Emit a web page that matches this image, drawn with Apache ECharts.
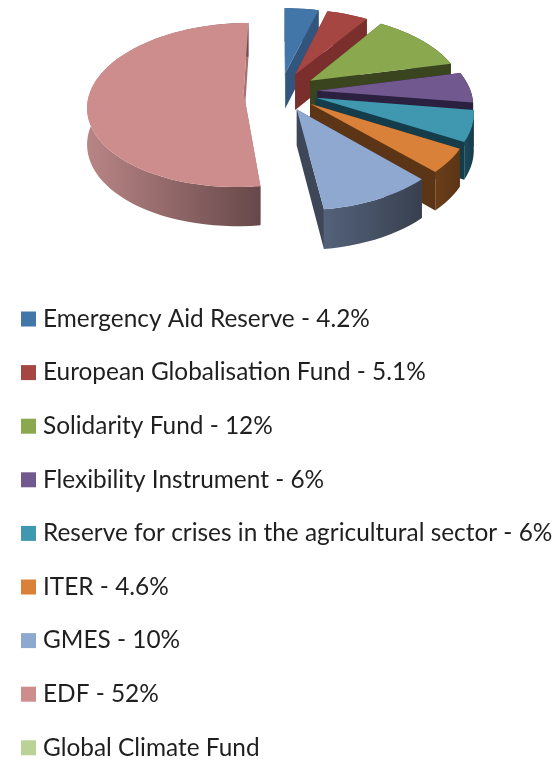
<!DOCTYPE html>
<html>
<head>
<meta charset="utf-8">
<style>html,body{margin:0;padding:0;background:#fff}#c{width:558px;height:760px}</style>
<script src="https://cdn.jsdelivr.net/npm/echarts@6/dist/echarts.min.js"></script>
</head>
<body>
<div id="c"></div>
<script>
const categories = ['Emergency Aid Reserve','European Globalisation Fund','Solidarity Fund','Flexibility Instrument','Reserve for crises in the agricultural sector','ITER','GMES','EDF','Global Climate Fund'];
const values = [4.2,5.1,12,6,6,4.6,10,52,0];
const valueLabels = ['4.2%','5.1%','12%','6%','6%','4.6%','10%','52%',''];
const topColors = ['#4275A8','#A64643','#8AA84E','#71588F','#4098B0','#D98138','#8FA8D0','#CE8D8D','#BBD296'];
const faceColors = ['#31557C','#7A2F2D','#3A441F','#2B2040','#153C4A','#5C3516','#3D4758','#A56F6F','#BBD296'];
const rimColors = [['#31557C','#31557C'],['#7A2F2D','#7A2F2D'],['#3A441F','#3A441F'],['#2B2040','#2B2040'],['#1C4A5A','#153C4A'],['#6A3E1A','#5C3516'],['#53627A','#38404F'],['#B98585','#67484A'],['#BBD296','#BBD296']];

const CX = 280.5, CY = 91.5, S = 153.5, K = 0.52, P = 0.15, EXPLODE = 0.24, DEPTH = 36;
const total = values.reduce((a, b) => a + b, 0);
const rad = d => d * Math.PI / 180;

function project(X, Y, drop) {
  const w = 1 + P * Y;
  return [CX + S * X / w, CY - S * K * Y / w + (drop ? DEPTH / Math.sqrt(w) : 0)];
}

function sliceRenderer(index) {
  return function (params, api) {
    let before = 0;
    for (let i = 0; i < index; i++) before += values[i];
    const a0 = before / total * 2 * Math.PI;
    const a1 = (before + api.value(0)) / total * 2 * Math.PI;
    if (a1 <= a0) return { type: 'group', children: [] };
    const mid = (a0 + a1) / 2;
    const ex = Math.sin(mid) * EXPLODE, ey = Math.cos(mid) * EXPLODE;
    const n = Math.max(4, Math.ceil((a1 - a0) / rad(3)));
    const arc = [];
    for (let i = 0; i <= n; i++) {
      const t = a0 + (a1 - a0) * i / n;
      arc.push([ex + Math.sin(t), ey + Math.cos(t)]);
    }
    const pt = (p, d) => project(p[0], p[1], d);
    const apex = [ex, ey];
    const first = arc[0], last = arc[n];
    const quad = (a, b) => ({
      type: 'polygon',
      shape: { points: [pt(a, 0), pt(b, 0), pt(b, 1), pt(a, 1)] },
      style: { fill: faceColors[index] }
    });
    const rimPts = arc.map(p => pt(p, 0)).concat(arc.slice().reverse().map(p => pt(p, 1)));
    const rim = {
      type: 'polygon',
      shape: { points: rimPts },
      style: {
        fill: {
          type: 'linear', x: 0, y: 0, x2: 1, y2: 0,
          colorStops: [{ offset: 0, color: rimColors[index][0] }, { offset: 1, color: rimColors[index][1] }]
        }
      }
    };
    const top = {
      type: 'polygon',
      shape: { points: [pt(apex, 0)].concat(arc.map(p => pt(p, 0))) },
      style: { fill: topColors[index] }
    };
    return { type: 'group', children: [quad(apex, first), quad(apex, last), rim, top] };
  };
}

const names = categories.map((c, i) => valueLabels[i] ? c + ' - ' + valueLabels[i] : c);
const chart = echarts.init(document.getElementById('c'), null, { renderer: 'canvas' });
chart.setOption({
  animation: false,
  backgroundColor: '#ffffff',
  legend: {
    orient: 'vertical',
    left: 21,
    top: 307,
    height: 480,
    padding: 0,
    itemWidth: 15,
    itemHeight: 15,
    itemGap: 29.6,
    icon: 'rect',
    selectedMode: false,
    textStyle: { fontFamily: 'Lato', fontSize: 24.4, color: '#1F1F1F', padding: [0, 0, 0, 2], lineHeight: 20 },
    data: names
  },
  series: categories.map((c, i) => ({
    type: 'custom',
    name: names[i],
    coordinateSystem: 'none',
    silent: true,
    itemStyle: { color: topColors[i] },
    renderItem: sliceRenderer(i),
    data: [[values[i]]]
  }))
});
</script>
</body>
</html>
